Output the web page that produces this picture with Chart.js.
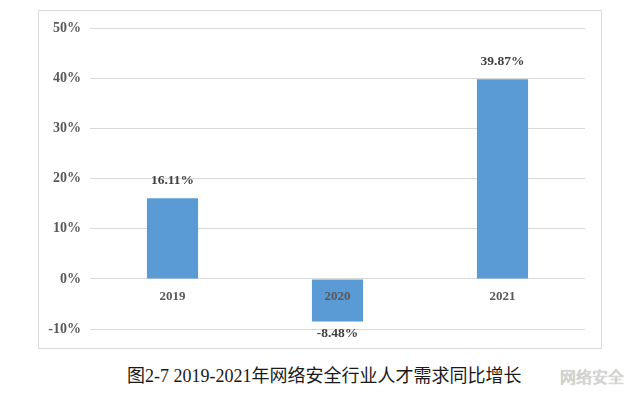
<!DOCTYPE html>
<html>
<head>
<meta charset="utf-8">
<script src="https://cdn.jsdelivr.net/npm/chart.js@4/dist/chart.umd.min.js"></script>
<style>
  html, body { margin: 0; padding: 0; background: #fff; }
  body { width: 640px; height: 399px; position: relative; overflow: hidden; }
  #box { position: absolute; left: 38px; top: 10px; width: 562px; height: 337px; border: 1px solid #d9d9d9; }
  #box canvas { display: block; }
  #caption { position: absolute; left: 127px; top: 361px;
    font-family: "Liberation Serif", "Noto Sans CJK SC", serif; font-size: 18px; color: #1a1a1a; white-space: nowrap; }
  #wm { position: absolute; left: 560px; top: 364px; font-family: "Noto Sans CJK SC", sans-serif;
    font-size: 16px; color: #d8d8d8; text-shadow: 0 0 1px #999; white-space: nowrap; }
</style>
</head>
<body>
<div id="box"><canvas id="c" width="562" height="337"></canvas></div>
<div id="caption">图2-7 2019-2021年网络安全行业人才需求同比增长</div>
<div id="wm">网络安全</div>
<script>
const categories = ["2019", "2020", "2021"];
const growth = [16.11, -8.48, 39.87];
const valueLabels = ["16.11%", "-8.48%", "39.87%"];
const yTicks = [-10, 0, 10, 20, 30, 40, 50];

const serifBold = { family: '"Liberation Serif", "Times New Roman", serif', size: 14, weight: 'bold' };

const labelPlugin = {
  id: 'valueLabels',
  afterDatasetsDraw(chart) {
    const ctx = chart.ctx;
    const meta = chart.getDatasetMeta(0);
    const xs = chart.scales.x, ys = chart.scales.y;
    const zeroY = ys.getPixelForValue(0);
    ctx.save();
    ctx.textAlign = 'center';
    ctx.textBaseline = 'middle';
    // category labels just below the zero line
    ctx.font = 'bold 13px "Liberation Serif", "Times New Roman", serif';
    ctx.fillStyle = '#595959';
    categories.forEach((c, i) => {
      ctx.fillText(c, xs.getPixelForValue(i), zeroY + 18);
    });
    // value labels
    ctx.font = 'bold 13.5px "Liberation Serif", "Times New Roman", serif';
    ctx.fillStyle = '#404040';
    meta.data.forEach((bar, i) => {
      const v = growth[i];
      const y = v >= 0 ? bar.y - 18 : bar.y + 12;
      ctx.fillText(valueLabels[i], bar.x, y);
    });
    ctx.restore();
  }
};

new Chart(document.getElementById('c'), {
  type: 'bar',
  data: {
    labels: categories,
    datasets: [{
      data: growth,
      backgroundColor: '#5b9bd5',
      borderWidth: 0,
      categoryPercentage: 1,
      barPercentage: 0.31
    }]
  },
  options: {
    responsive: false,
    animation: false,
    devicePixelRatio: 1,
    layout: { padding: { left: 0, right: 16, top: 15, bottom: 19 } },
    plugins: { legend: { display: false }, tooltip: { enabled: false } },
    scales: {
      x: {
        display: false
      },
      y: {
        min: -10, max: 50,
        afterBuildTicks(scale) { scale.ticks = yTicks.map(v => ({ value: v })); },
        afterFit(scale) { scale.width = 51; },
        grid: { color: '#d9d9d9', drawTicks: false, lineWidth: 1 },
        border: { display: false },
        ticks: {
          color: '#595959', font: serifBold, padding: 9,
          callback: v => v + '%'
        }
      }
    }
  },
  plugins: [labelPlugin]
});
</script>
</body>
</html>
